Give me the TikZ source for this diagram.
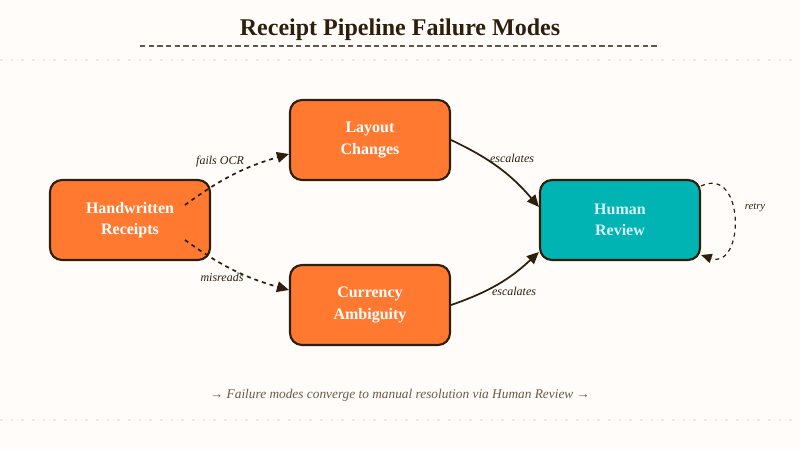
\documentclass[tikz,border=0pt]{standalone}
\usepackage{fontspec}
\setmainfont{Liberation Serif}
\usetikzlibrary{arrows.meta}
\definecolor{bg}{HTML}{FFFCFA}
\definecolor{ink}{HTML}{2E1E0C}
\definecolor{org}{HTML}{FF7A30}
\definecolor{teal}{HTML}{00B4B4}
\definecolor{foot}{HTML}{6B5A48}
\begin{document}
\begin{tikzpicture}[x=0.75pt,y=-0.75pt,
  box/.style={draw=ink,line width=1.6pt,rounded corners=9pt,minimum width=120pt,minimum height=60pt,align=center,font=\bfseries\large,text=white},
  edge/.style={draw=ink,line width=1.3pt,-{Triangle[length=9pt,width=8pt]}},
  lab/.style={font=\itshape\small,text=ink}]
\useasboundingbox[fill=bg] (0,0) rectangle (800,450);
\draw[ink!10,line width=1.2pt,dash pattern=on 2pt off 6pt] (0,60) -- (800,60);
\draw[ink!10,line width=1.2pt,dash pattern=on 2pt off 6pt] (0,420) -- (800,420);
\node[font=\bfseries\fontsize{18}{20}\selectfont,text=ink] (title) at (400,30) {Receipt Pipeline Failure Modes};
\draw[ink!75,line width=1.2pt,dash pattern=on 4pt off 2.5pt] (140,46) -- (660,46);
\node[box,fill=org] (hw) at (130,220) {Handwritten\\[2pt]Receipts};
\node[box,fill=org] (lc) at (370,140) {Layout\\[2pt]Changes};
\node[box,fill=org] (ca) at (370,305) {Currency\\[2pt]Ambiguity};
\node[box,fill=teal,text=cyan!15] (hr) at (620,220) {Human\\[2pt]Review};
\coordinate (a1) at (185,205);
\coordinate (a2) at (185,240);
\draw[edge,dashed] (a1) to[bend left=10] (lc.west|-0,154);
\draw[edge,dashed] (a2) to[bend right=10] (ca.west|-0,290);
\draw[edge] (lc.east) to[bend left=12] (hr.north west|-0,207);
\draw[edge] (ca.east) to[bend right=12] (hr.south west|-0,252);
\draw[ink,line width=0.9pt,dashed,-{Triangle[length=8pt,width=7pt]}] (hr.north east|-0,186) .. controls (745,165) and (745,270) .. (hr.south east|-0,255);
\node[lab] (l1) at (220,162) {fails OCR};
\node[lab] (l2) at (222,277) {misreads};
\node[lab] (l3) at (512,158) {escalates};
\node[lab] (l4) at (514,291) {escalates};
\node[lab,font=\itshape\footnotesize] (l5) at (755,208) {retry};
\node[font=\itshape,text=foot] (ft) at (400,395) {→ Failure modes converge to manual resolution via Human Review →};
\end{tikzpicture}
\end{document}
